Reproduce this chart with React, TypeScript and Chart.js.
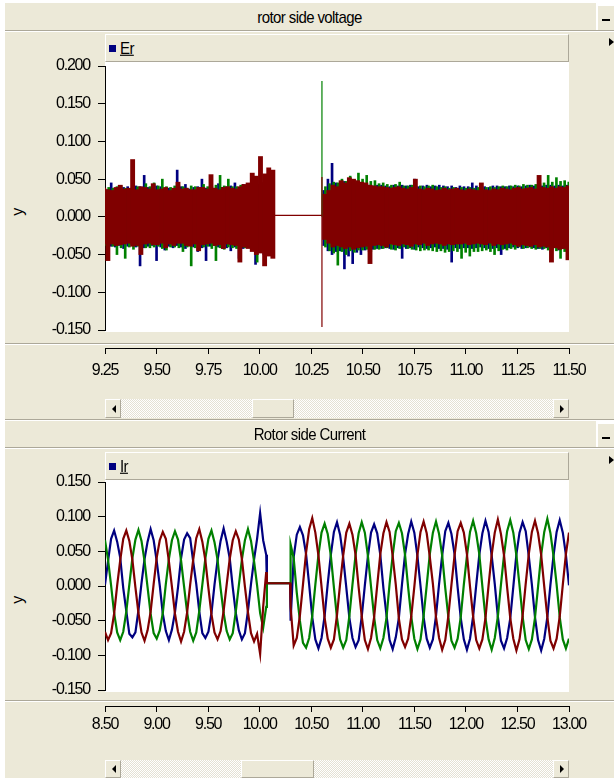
import React, { useEffect, useRef } from "react";
import { Chart, registerables } from "chart.js";
Chart.register(...registerables);

const FONT = "'Liberation Sans', Arial, sans-serif";
const BEIGE = "#ECE9D8";
const SHADOW = "#ACA899";
const BLUE = "#000080";
const GREEN = "#008000";
const RED = "#800000";

// ---------- Rotor side voltage (Er) ----------
const erTitle = "rotor side voltage";
const erLegend = "Er";
const erYTicks = [0.2, 0.15, 0.1, 0.05, 0, -0.05, -0.1, -0.15];
const erTimeTicks = [9.25, 9.5, 9.75, 10.0, 10.25, 10.5, 10.75, 11.0, 11.25, 11.5];
const erBinStep = 0.02;
const erPreStart = 9.234;
const erPostStart = 10.305;

const erRedPreHigh = [0.038,0.036,0.035,0.039,0.042,0.037,0.038,0.076,0.036,0.040,0.039,0.037,0.044,0.036,0.037,0.039,0.035,0.038,0.046,0.037,0.038,0.036,0.036,0.039,0.039,0.037,0.056,0.038,0.036,0.039,0.040,0.038,0.037,0.040,0.043,0.045,0.058,0.054,0.080,0.057,0.065,0.062];
const erRedPreLow = [-0.036,-0.058,-0.036,-0.038,-0.037,-0.036,-0.035,-0.039,-0.038,-0.050,-0.036,-0.035,-0.037,-0.037,-0.035,-0.041,-0.036,-0.038,-0.035,-0.035,-0.038,-0.039,-0.036,-0.045,-0.037,-0.036,-0.035,-0.038,-0.037,-0.042,-0.036,-0.037,-0.038,-0.060,-0.040,-0.042,-0.046,-0.050,-0.048,-0.065,-0.052,-0.055];
const erBluePreHigh = [0.038,0.036,0.045,0.037,0.036,0.039,0.040,0.038,0.041,0.040,0.055,0.039,0.037,0.041,0.040,0.038,0.038,0.036,0.062,0.040,0.043,0.037,0.039,0.040,0.050,0.038,0.041,0.038,0.044,0.039,0.040,0.041,0.045,0.039,0.043,0.040,0.050,0.044,0.048,0.046,0.045,0.047];
const erBluePreLow = [-0.037,-0.036,-0.039,-0.040,-0.038,-0.042,-0.039,-0.037,-0.040,-0.065,-0.041,-0.039,-0.038,-0.058,-0.040,-0.044,-0.039,-0.041,-0.038,-0.040,-0.042,-0.037,-0.040,-0.046,-0.041,-0.058,-0.039,-0.038,-0.040,-0.042,-0.041,-0.045,-0.040,-0.055,-0.042,-0.040,-0.044,-0.063,-0.046,-0.050,-0.045,-0.048];
const erGreenPreHigh = [0.036,0.039,0.038,0.040,0.041,0.038,0.037,0.040,0.040,0.039,0.044,0.040,0.045,0.041,0.050,0.040,0.039,0.041,0.042,0.040,0.038,0.041,0.040,0.039,0.043,0.040,0.041,0.042,0.055,0.041,0.050,0.040,0.040,0.042,0.042,0.041,0.046,0.043,0.045,0.044,0.043,0.044];
const erGreenPreLow = [-0.038,-0.040,-0.039,-0.050,-0.041,-0.055,-0.040,-0.043,-0.039,-0.038,-0.041,-0.041,-0.040,-0.039,-0.042,-0.044,-0.040,-0.040,-0.041,-0.046,-0.040,-0.065,-0.041,-0.042,-0.040,-0.039,-0.042,-0.058,-0.041,-0.043,-0.040,-0.041,-0.042,-0.044,-0.041,-0.040,-0.042,-0.060,-0.043,-0.048,-0.044,-0.046];

const erRedPostHigh = [0.030,0.035,0.042,0.040,0.048,0.045,0.052,0.050,0.048,0.046,0.045,0.042,0.041,0.040,0.040,0.039,0.038,0.039,0.040,0.038,0.037,0.039,0.050,0.037,0.036,0.038,0.037,0.035,0.036,0.038,0.036,0.037,0.038,0.036,0.035,0.037,0.036,0.035,0.045,0.036,0.035,0.037,0.036,0.038,0.037,0.036,0.038,0.039,0.037,0.038,0.039,0.037,0.055,0.039,0.038,0.040,0.038,0.040,0.039,0.041];
const erRedPostLow = [-0.030,-0.035,-0.040,-0.038,-0.040,-0.042,-0.040,-0.043,-0.041,-0.040,-0.039,-0.062,-0.038,-0.037,-0.038,-0.040,-0.036,-0.037,-0.038,-0.036,-0.037,-0.039,-0.036,-0.037,-0.035,-0.038,-0.036,-0.035,-0.036,-0.038,-0.036,-0.037,-0.036,-0.036,-0.035,-0.037,-0.036,-0.035,-0.036,-0.037,-0.035,-0.038,-0.036,-0.037,-0.036,-0.035,-0.037,-0.039,-0.037,-0.038,-0.039,-0.037,-0.040,-0.039,-0.040,-0.060,-0.041,-0.043,-0.042,-0.057];
const erBluePostHigh = [0.035,0.050,0.071,0.045,0.046,0.047,0.048,0.046,0.045,0.044,0.043,0.042,0.041,0.042,0.042,0.041,0.040,0.042,0.041,0.042,0.041,0.042,0.050,0.040,0.041,0.042,0.040,0.041,0.042,0.041,0.040,0.041,0.039,0.041,0.040,0.040,0.045,0.041,0.040,0.040,0.039,0.041,0.041,0.040,0.040,0.041,0.040,0.041,0.040,0.041,0.042,0.041,0.040,0.041,0.042,0.042,0.041,0.042,0.041,0.042];
const erBluePostLow = [-0.038,-0.045,-0.050,-0.046,-0.045,-0.069,-0.052,-0.062,-0.047,-0.050,-0.044,-0.046,-0.043,-0.042,-0.042,-0.041,-0.042,-0.043,-0.041,-0.055,-0.042,-0.041,-0.043,-0.040,-0.041,-0.042,-0.041,-0.040,-0.042,-0.042,-0.043,-0.060,-0.041,-0.042,-0.041,-0.041,-0.042,-0.041,-0.040,-0.041,-0.042,-0.042,-0.041,-0.050,-0.042,-0.041,-0.040,-0.041,-0.042,-0.041,-0.040,-0.041,-0.042,-0.043,-0.041,-0.042,-0.041,-0.044,-0.042,-0.043];
const erGreenPostHigh = [0.040,0.044,0.046,0.045,0.050,0.047,0.054,0.049,0.058,0.050,0.055,0.047,0.048,0.044,0.045,0.043,0.042,0.043,0.046,0.041,0.041,0.042,0.040,0.041,0.040,0.041,0.042,0.040,0.039,0.040,0.038,0.039,0.038,0.039,0.038,0.039,0.038,0.039,0.038,0.039,0.040,0.039,0.040,0.041,0.040,0.041,0.042,0.041,0.043,0.042,0.042,0.043,0.044,0.045,0.055,0.046,0.052,0.047,0.048,0.046];
const erGreenPostLow = [-0.040,-0.045,-0.048,-0.064,-0.046,-0.050,-0.045,-0.047,-0.044,-0.044,-0.043,-0.046,-0.043,-0.043,-0.042,-0.041,-0.043,-0.044,-0.042,-0.040,-0.042,-0.043,-0.044,-0.045,-0.044,-0.044,-0.045,-0.046,-0.045,-0.047,-0.046,-0.045,-0.046,-0.055,-0.047,-0.052,-0.046,-0.046,-0.045,-0.044,-0.046,-0.050,-0.045,-0.043,-0.044,-0.042,-0.043,-0.040,-0.042,-0.041,-0.042,-0.043,-0.042,-0.042,-0.044,-0.044,-0.045,-0.055,-0.046,-0.045];

const erFlatTimes = [10.074, 10.302];
const erFlatValues = [0.002, 0.002];
const erSpikeTime = 10.302;
const erSpikeGreen = [0.18, 0.0];
const erSpikeRed = [0.053, -0.146];

// ---------- Rotor side current (Ir) ----------
const irTitle = "Rotor side Current";
const irLegend = "Ir";
const irYTicks = [0.15, 0.1, 0.05, 0, -0.05, -0.1, -0.15];
const irTimeTicks = [8.5, 9.0, 9.5, 10.0, 10.5, 11.0, 11.5, 12.0, 12.5, 13.0];
const irPreStart = 8.5;
const irPreStep = 0.0295;
const irPostStart = 10.3;
const irPostStep = 0.03;
const irGapTimes = [10.07, 10.295];
const irGapValues = [0.004, 0.004];

const irBluePre = [0.002,0.036,0.068,0.080,0.064,0.041,-0.003,-0.036,-0.069,-0.074,-0.067,-0.035,0.004,0.039,0.064,0.082,0.066,0.036,0.001,-0.040,-0.065,-0.078,-0.063,-0.038,-0.002,0.040,0.067,0.076,0.069,0.035,0.003,-0.037,-0.068,-0.075,-0.066,-0.039,0.002,0.037,0.065,0.083,0.064,0.040,-0.002,-0.039,-0.064,-0.077,-0.068,-0.036,0.003,0.038,0.068,0.105,0.066,0.045];
const irRedPre = [-0.066,-0.078,-0.068,-0.040,0.001,0.037,0.068,0.080,0.065,0.038,-0.002,-0.039,-0.067,-0.079,-0.064,-0.037,0.003,0.041,0.066,0.078,0.068,0.036,-0.001,-0.040,-0.066,-0.080,-0.066,-0.038,0.002,0.038,0.069,0.082,0.064,0.037,-0.003,-0.041,-0.067,-0.077,-0.065,-0.036,0.002,0.039,0.066,0.079,0.067,0.039,-0.001,-0.038,-0.068,-0.080,-0.069,-0.098,-0.030,0.020];
const irGreenPre = [0.066,0.038,0.001,-0.039,-0.067,-0.078,-0.066,-0.037,0.002,0.040,0.067,0.081,0.065,0.036,-0.002,-0.040,-0.068,-0.076,-0.064,-0.039,0.003,0.039,0.066,0.079,0.067,0.037,-0.001,-0.038,-0.066,-0.079,-0.067,-0.036,0.002,0.040,0.068,0.080,0.063,0.038,-0.003,-0.039,-0.065,-0.077,-0.068,-0.037,0.001,0.038,0.066,0.082,0.065,0.036,0.001,-0.039,-0.060,-0.030];

const irBluePost = [-0.050,0.042,0.074,0.085,0.073,0.046,0.002,-0.045,-0.077,-0.090,-0.075,-0.043,0.003,0.045,0.078,0.092,0.074,0.041,-0.002,-0.046,-0.075,-0.088,-0.078,-0.044,0.001,0.043,0.077,0.089,0.076,0.045,-0.003,-0.042,-0.078,-0.091,-0.074,-0.046,0.002,0.046,0.075,0.093,0.077,0.043,0.000,-0.045,-0.076,-0.089,-0.077,-0.043,0.003,0.044,0.079,0.091,0.075,0.046,-0.002,-0.046,-0.077,-0.092,-0.076,-0.044,0.001,0.045,0.076,0.094,0.078,0.044,0.003,-0.044,-0.079,-0.090,-0.075,-0.047,-0.001,0.046,0.077,0.092,0.079,0.043,0.002,-0.045,-0.078,-0.093,-0.076,-0.045,0.002,0.044,0.078,0.095,0.077,0.045,0.001];
const irRedPost = [-0.030,-0.086,-0.075,-0.043,0.002,0.048,0.082,0.098,0.077,0.044,-0.001,-0.046,-0.076,-0.089,-0.077,-0.042,0.003,0.044,0.077,0.090,0.074,0.045,-0.002,-0.044,-0.078,-0.091,-0.075,-0.045,0.001,0.046,0.076,0.092,0.078,0.043,0.002,-0.047,-0.077,-0.088,-0.076,-0.044,-0.001,0.045,0.078,0.093,0.076,0.042,0.003,-0.045,-0.075,-0.092,-0.078,-0.043,0.002,0.044,0.079,0.091,0.077,0.046,-0.001,-0.044,-0.078,-0.090,-0.077,-0.046,0.001,0.045,0.077,0.096,0.075,0.044,-0.002,-0.046,-0.076,-0.093,-0.077,-0.043,0.003,0.046,0.078,0.094,0.076,0.045,-0.001,-0.045,-0.079,-0.090,-0.076,-0.044,0.002,0.046,0.077];
const irGreenPost = [0.060,0.040,-0.010,-0.050,-0.082,-0.089,-0.075,-0.043,0.002,0.045,0.077,0.090,0.075,0.044,-0.002,-0.046,-0.077,-0.089,-0.078,-0.043,0.002,0.045,0.076,0.092,0.077,0.043,-0.001,-0.045,-0.078,-0.090,-0.075,-0.046,0.003,0.044,0.079,0.091,0.076,0.045,-0.002,-0.044,-0.076,-0.091,-0.077,-0.043,0.001,0.046,0.077,0.093,0.075,0.044,-0.003,-0.045,-0.079,-0.089,-0.076,-0.045,0.002,0.043,0.078,0.094,0.076,0.046,-0.001,-0.046,-0.077,-0.092,-0.075,-0.044,0.002,0.045,0.079,0.095,0.077,0.044,0.001,-0.044,-0.078,-0.091,-0.077,-0.046,-0.001,0.045,0.078,0.097,0.076,0.043,0.002,-0.045,-0.077,-0.090,-0.076];

// ---------- builders ----------
function erBars(preHi: number[], preLo: number[], postHi: number[], postLo: number[], shift: number) {
  return [
    ...preHi.map((h, i) => ({ x: erPreStart + shift + i * erBinStep, y: [preLo[i], h] })),
    ...postHi.map((h, i) => ({ x: erPostStart + shift + i * erBinStep, y: [postLo[i], h] })),
  ];
}
function irSeries(pre: number[], post: number[]) {
  return [
    ...pre.map((y, i) => ({ x: irPreStart + i * irPreStep, y })),
    ...irGapTimes.map((x, i) => ({ x, y: irGapValues[i] })),
    ...post.map((y, i) => ({ x: irPostStart + i * irPostStep, y })),
  ];
}

const tickFont = { family: FONT, size: 16 };

// tightens glyph spacing so the labels look like the narrow font of the original
const narrowText = {
  id: "narrowText",
  beforeInit(chart: any) { chart.ctx.letterSpacing = "-1.2px"; },
  beforeUpdate(chart: any) { chart.ctx.letterSpacing = "-1.2px"; },
  beforeLayout(chart: any) { chart.ctx.letterSpacing = "-1.2px"; },
  beforeDraw(chart: any) { chart.ctx.letterSpacing = "-1.2px"; },
};

function yScale(min: number, max: number, ticks: number[]) {
  return {
    min, max, stacked: false,
    afterFit: (s: any) => { s.width = 105; },
    afterBuildTicks: (s: any) => { s.ticks = ticks.map((v) => ({ value: v })); },
    ticks: { font: tickFont, color: "#000", padding: 8, callback: (v: any) => Number(v).toFixed(3) },
    grid: { drawOnChartArea: false, drawTicks: true, tickLength: 7, color: "#000", lineWidth: 1 },
    border: { display: true, color: "#000", width: 1 },
    title: { display: false },
  };
}
function hiddenX(min: number, max: number) {
  return { type: "linear", min, max, display: false, offset: false, grid: { offset: false } };
}
function axisOnlyConfig(min: number, max: number, ticks: number[], pad: number) {
  return {
    type: "line",
    data: { datasets: [] },
    plugins: [narrowText],
    options: {
      responsive: false, animation: false, devicePixelRatio: 1,
      layout: { padding: { left: 105, right: 45, top: 0, bottom: 0 } },
      plugins: { legend: { display: false }, tooltip: { enabled: false } },
      scales: {
        x: {
          type: "linear", min, max, position: "bottom",
          afterFit: (s: any) => { s.height = 38; },
          afterBuildTicks: (s: any) => { s.ticks = ticks.map((v) => ({ value: v })); },
          ticks: { font: tickFont, color: "#000", padding: pad, autoSkip: false, maxRotation: 0, callback: (v: any) => Number(v).toFixed(2) },
          grid: { drawOnChartArea: false, drawTicks: true, tickLength: 6, color: "#000" },
          border: { display: true, color: "#000", width: 1 },
        },
        y: { display: false },
      },
    },
  };
}

function barDs(data: any[], color: string, thickness: number, order: number) {
  return { type: "bar", data, backgroundColor: color, barThickness: thickness, grouped: false, borderWidth: 0, borderSkipped: false, order };
}
function lineDs(data: any[], color: string, width: number, order: number) {
  return { type: "line", data, borderColor: color, borderWidth: width, pointRadius: 0, tension: 0, fill: false, order };
}

function ScrollBar({ top, height, thumbL, thumbR }: { top: number; height: number; thumbL: number; thumbR: number }) {
  const btn = (left: number, dir: "l" | "r") => (
    <div style={{ position: "absolute", left, top, width: 16, height, boxSizing: "border-box", background: BEIGE, borderTop: "1px solid #fff", borderLeft: "1px solid #fff", borderRight: `1px solid ${SHADOW}`, borderBottom: `1px solid ${SHADOW}` }}>
      <div style={{ position: "absolute", left: 6, top: Math.round(height / 2) - 5, width: 0, height: 0, borderTop: "4px solid transparent", borderBottom: "4px solid transparent", ...(dir === "l" ? { borderRight: "4px solid #000" } : { borderLeft: "4px solid #000" }) }} />
    </div>
  );
  return (
    <>
      <div style={{ position: "absolute", left: 105, top, width: 464, height, background: "repeating-conic-gradient(#ffffff 0% 25%, #e4e1d4 0% 50%) 0 0 / 2px 2px" }} />
      <div style={{ position: "absolute", left: thumbL, top, width: thumbR - thumbL, height, boxSizing: "border-box", background: BEIGE, borderTop: "1px solid #fff", borderLeft: "1px solid #fff", borderRight: `1px solid ${SHADOW}`, borderBottom: `1px solid ${SHADOW}` }} />
      {btn(105, "l")}
      {btn(553, "r")}
    </>
  );
}

const htmlText = { fontFamily: FONT, color: "#000", letterSpacing: "-0.6px" } as const;

function TitleBar({ top, height, text }: { top: number; height: number; text: string }) {
  return (
    <>
      <div style={{ position: "absolute", left: 5, top, width: 591, height, background: BEIGE }} />
      <div style={{ position: "absolute", left: 5, top, width: 609, height, lineHeight: `${height}px`, textAlign: "center", fontSize: 15, transform: "scaleY(1.12)", ...htmlText }}>{text}</div>
      <div style={{ position: "absolute", left: 597, top: top + 2, width: 17, height: height - 2, boxSizing: "border-box", background: BEIGE, borderTop: "1px solid #fff", borderLeft: "1px solid #fff" }} />
      <div style={{ position: "absolute", left: 602, top: top + 16, width: 8, height: 2, background: "#000" }} />
      <div style={{ position: "absolute", left: 5, top: top + height, width: 609, height: 1, background: SHADOW }} />
      <div style={{ position: "absolute", left: 5, top: top + height + 1, width: 609, height: 1, background: "#fff" }} />
    </>
  );
}

function Legend({ top, text }: { top: number; text: string }) {
  return (
    <>
      <div style={{ position: "absolute", left: 105, top, width: 464, height: 28, boxSizing: "border-box", background: BEIGE, borderTop: "1px solid #fff", borderLeft: "1px solid #fff", borderRight: `1px solid ${SHADOW}`, borderBottom: `1px solid ${SHADOW}` }} />
      <div style={{ position: "absolute", left: 109, top: top + 11, width: 7, height: 7, background: BLUE }} />
      <div style={{ position: "absolute", left: 120, top: top + 4, height: 20, lineHeight: "20px", fontSize: 15, textDecoration: "underline", transform: "scaleY(1.12)", ...htmlText }}>{text}</div>
      <div style={{ position: "absolute", left: 609, top: top + 4, width: 0, height: 0, borderTop: "4px solid transparent", borderBottom: "4px solid transparent", borderLeft: "5px solid #000" }} />
    </>
  );
}

function Sep({ top }: { top: number }) {
  return (
    <>
      <div style={{ position: "absolute", left: 5, top, width: 609, height: 1, background: SHADOW }} />
      <div style={{ position: "absolute", left: 5, top: top + 1, width: 609, height: 1, background: "#fff" }} />
    </>
  );
}

function YLabel({ cy }: { cy: number }) {
  return (
    <div style={{ position: "absolute", left: 8, top: cy - 10, width: 20, height: 20, lineHeight: "20px", textAlign: "center", fontSize: 16, transform: "rotate(-90deg)", ...htmlText }}>y</div>
  );
}

export default function App() {
  const erRef = useRef<HTMLCanvasElement>(null);
  const erAxisRef = useRef<HTMLCanvasElement>(null);
  const irRef = useRef<HTMLCanvasElement>(null);
  const irAxisRef = useRef<HTMLCanvasElement>(null);

  useEffect(() => {
    document.body.style.margin = "0";
    const charts: Chart[] = [];

    charts.push(new Chart(erRef.current!, {
      type: "bar",
      data: {
        datasets: [
          lineDs(erFlatTimes.map((x, i) => ({ x, y: erFlatValues[i] })), RED, 1.2, 0),
          lineDs(erSpikeRed.map((y) => ({ x: erSpikeTime, y })), RED, 1.2, 0),
          lineDs(erSpikeGreen.map((y) => ({ x: erSpikeTime, y })), GREEN, 1.2, 1),
          barDs(erBars(erRedPreHigh, erRedPreLow, erRedPostHigh, erRedPostLow, 0.01), RED, 4.2, 2),
          barDs(erBars(erGreenPreHigh, erGreenPreLow, erGreenPostHigh, erGreenPostLow, 0.014), GREEN, 2, 3),
          barDs(erBars(erBluePreHigh, erBluePreLow, erBluePostHigh, erBluePostLow, 0.006), BLUE, 2, 4),
        ] as any,
      },
      plugins: [narrowText],
      options: {
        responsive: false, animation: false, devicePixelRatio: 1,
        layout: { padding: { left: 0, right: 0, top: 20, bottom: 20 } },
        plugins: { legend: { display: false }, tooltip: { enabled: false } },
        scales: { x: hiddenX(9.25, 11.5) as any, y: yScale(-0.15, 0.2, erYTicks) as any },
      },
    } as any));

    charts.push(new Chart(erAxisRef.current!, axisOnlyConfig(9.25, 11.5, erTimeTicks, 7) as any));

    charts.push(new Chart(irRef.current!, {
      type: "line",
      data: {
        datasets: [
          lineDs(irSeries(irRedPre, irRedPost), RED, 2.2, 0),
          lineDs(irSeries(irGreenPre, irGreenPost), GREEN, 2.2, 1),
          lineDs(irSeries(irBluePre, irBluePost), BLUE, 2.2, 2),
        ] as any,
      },
      plugins: [narrowText],
      options: {
        responsive: false, animation: false, devicePixelRatio: 1,
        layout: { padding: { left: 0, right: 0, top: 20, bottom: 20 } },
        plugins: { legend: { display: false }, tooltip: { enabled: false } },
        scales: { x: hiddenX(8.5, 13.0) as any, y: yScale(-0.15, 0.15, irYTicks) as any },
      },
    } as any));

    charts.push(new Chart(irAxisRef.current!, axisOnlyConfig(8.5, 13.0, irTimeTicks, 3) as any));

    return () => charts.forEach((c) => c.destroy());
  }, []);

  return (
    <div style={{ position: "absolute", left: 0, top: 0, width: 614, height: 778, background: "#fff", overflow: "hidden" }}>
      {/* top panel */}
      <div style={{ position: "absolute", left: 5, top: 32, width: 609, height: 389, background: BEIGE }} />
      <TitleBar top={3} height={27} text={erTitle} />
      <Legend top={34} text={erLegend} />
      <div style={{ position: "absolute", left: 105, top: 62, width: 464, height: 270, background: "#fff" }} />
      <YLabel cy={212} />
      <canvas ref={erRef} width={569} height={304} style={{ position: "absolute", left: 0, top: 46 }} />
      <Sep top={343} />
      <canvas ref={erAxisRef} width={614} height={40} style={{ position: "absolute", left: 0, top: 346 }} />
      <ScrollBar top={399} height={19} thumbL={252} thumbR={294} />
      <Sep top={419} />

      {/* bottom panel */}
      <div style={{ position: "absolute", left: 5, top: 449, width: 609, height: 329, background: BEIGE }} />
      <TitleBar top={421} height={26} text={irTitle} />
      <Legend top={452} text={irLegend} />
      <div style={{ position: "absolute", left: 105, top: 480, width: 464, height: 212, background: "#fff" }} />
      <YLabel cy={600} />
      <canvas ref={irRef} width={569} height={248} style={{ position: "absolute", left: 0, top: 462 }} />
      <Sep top={700} />
      <canvas ref={irAxisRef} width={614} height={40} style={{ position: "absolute", left: 0, top: 704 }} />
      <ScrollBar top={760} height={18} thumbL={241} thumbR={314} />
    </div>
  );
}
